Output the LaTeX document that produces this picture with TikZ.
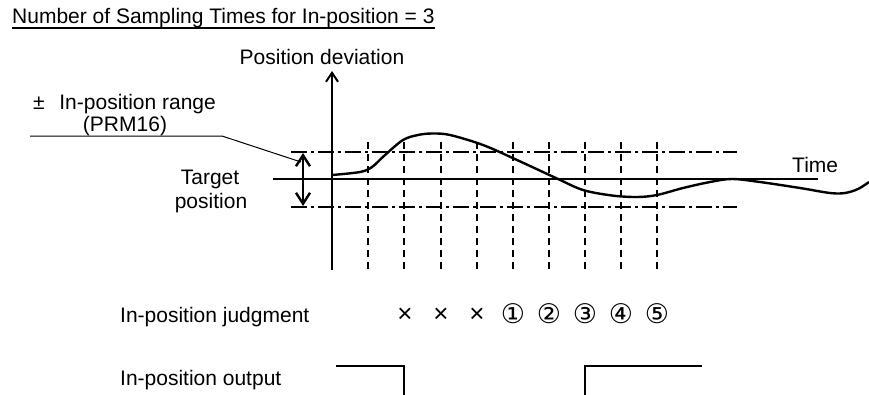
\documentclass[tikz,border=0pt]{standalone}
\usepackage{fontspec}
\setmainfont{Liberation Sans}
\newfontfamily\symfont{DejaVu Sans}
\usetikzlibrary{arrows.meta}
\begin{document}
\begin{tikzpicture}[x=1pt,y=-1pt,
  txt/.style={inner sep=0pt, font=\fontsize{21}{25}\selectfont},
  crossmark/.style={inner sep=0pt, font=\fontsize{26}{28}\selectfont},
  sym/.style={inner sep=0pt, font=\symfont\fontsize{27}{30}\selectfont},
  axisline/.style={line width=2.2pt, -{Straight Barb[length=9pt,width=12pt,line width=2pt]}},
  dblarrow/.style={line width=2.6pt, {Straight Barb[length=11pt,width=14pt,line width=2.4pt]}-{Straight Barb[length=11pt,width=14pt,line width=2.4pt]}},
  targetline/.style={line width=1.5pt},
  vdash/.style={line width=1.1pt, dash pattern=on 7pt off 5pt},
  hdashdot/.style={line width=1.1pt, dash pattern=on 16pt off 4pt on 3pt off 4pt},
  leader/.style={line width=1pt},
  curveline/.style={line width=2.4pt, line join=round},
  signal/.style={line width=2.2pt, line join=miter}
]
\useasboundingbox (0,0) rectangle (869,394);

% title
\node[txt, anchor=base west] (title) at (12,23) {Number of Sampling Times for In-position = 3};
\draw[line width=1.2pt] ([yshift=-5pt]title.base west) -- ([yshift=-5pt]title.base east);

% axis
\node[txt, anchor=base] (pd) at (322,64) {Position deviation};
\coordinate (ax0) at (332,270);
\coordinate (axt) at (332,71);
\draw[axisline] (ax0) -- (axt);

% grid verticals
\foreach \x in {368,404,441,477,513,549,585,621,657}
  \draw[vdash] (\x,142) -- (\x,270);

% range lines
\coordinate (ru0) at (291,152); \coordinate (ru1) at (737,152);
\coordinate (rl0) at (291,207); \coordinate (rl1) at (737,207);
\draw[hdashdot] (ru0) -- (ru1);
\draw[hdashdot] (rl0) -- (rl1);

% target line
\coordinate (tl) at (273,179); \coordinate (tr) at (818,179);
\draw[targetline] (tl) -- (tr);
\node[txt, anchor=base west] (time) at (792,172) {Time};

% double arrow
\coordinate (da0) at (303,153); \coordinate (da1) at (303,206);
\draw[dblarrow] (da0) -- (da1);

% leader
\coordinate (ld0) at (30,136); \coordinate (ld1) at (222,136); \coordinate (ld2) at (301,162);
\draw[leader] (ld0) -- (ld1) -- (ld2);
\node[txt, anchor=base west] (rng) at (33,109) {±\hspace{0.7em}In-position range};
\node[txt, anchor=base] (prm) at (125,131) {(PRM16)};

\node[txt, anchor=base] (tgt1) at (210,184) {Target};
\node[txt, anchor=base] (tgt2) at (211,208) {position};

% curve
\draw[curveline] plot[smooth, tension=0.55] coordinates {
 (332,175) (360,172) (372,167) (385,155) (403,140) (418,135) (432,133.5) (450,135)
 (483,145) (517,160) (557,178.5) (583,190) (612,195.5) (637,197) (657,195)
 (683,188) (710,182) (732,179) (760,182) (800,188) (830,193) (845,193) (858,189) (869,182)};

% judgment
\node[txt, anchor=base west] (jl) at (120,322) {In-position judgment};
\node[crossmark, anchor=base] (j1) at (405,322) {×};
\node[crossmark, anchor=base] (j2) at (441,322) {×};
\node[crossmark, anchor=base] (j3) at (477,322) {×};
\node[sym, anchor=base] (j4) at (513,323) {①};
\node[sym, anchor=base] (j5) at (549,323) {②};
\node[sym, anchor=base] (j6) at (585,323) {③};
\node[sym, anchor=base] (j7) at (621,323) {④};
\node[sym, anchor=base] (j8) at (657,323) {⑤};

% output
\node[txt, anchor=base west] (ol) at (120,385) {In-position output};
\coordinate (o1) at (336,366); \coordinate (o2) at (404,366); \coordinate (o3) at (404,395);
\coordinate (o4) at (585,395); \coordinate (o5) at (585,366); \coordinate (o6) at (702,366);
\draw[signal] (o1) -- (o2) -- (o3);
\draw[signal] (o4) -- (o5) -- (o6);
\end{tikzpicture}
\end{document}
